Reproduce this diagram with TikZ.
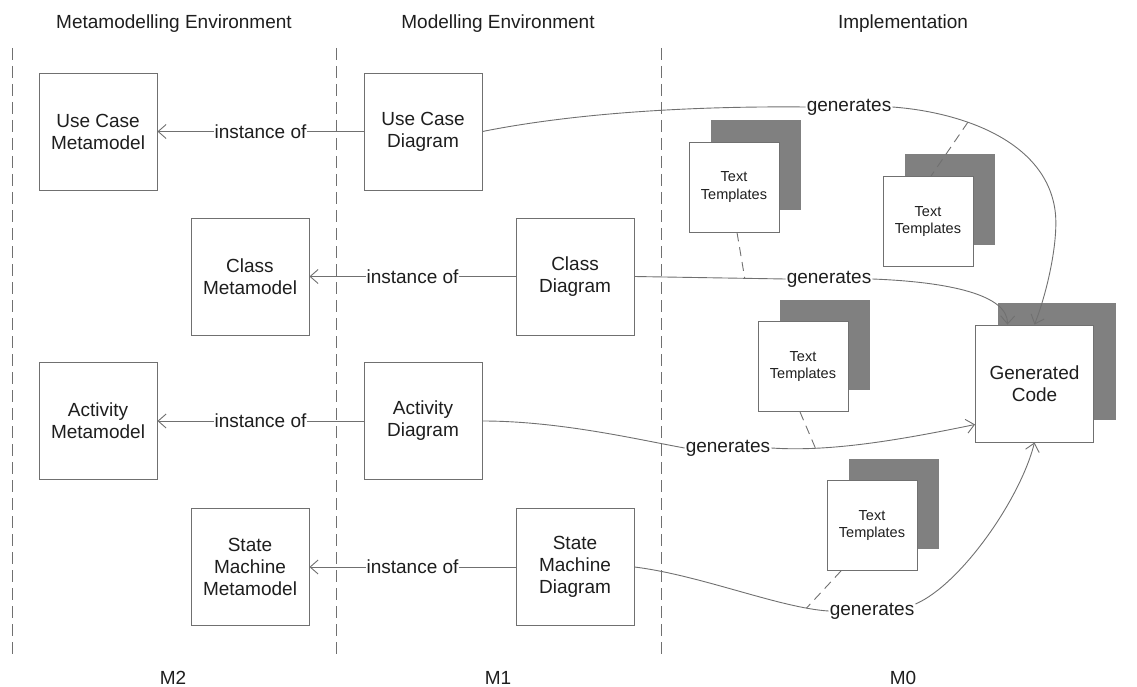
\documentclass[tikz,border=0pt]{standalone}
\usepackage{fontspec}
\setmainfont{Liberation Sans}
\usetikzlibrary{arrows.meta}
\definecolor{ln}{HTML}{707070}
\definecolor{sh}{HTML}{808080}
\definecolor{tx}{HTML}{1E1E1E}
\begin{document}
\begin{tikzpicture}[x=1pt,y=-1pt,
  every node/.style={text=tx},
  box/.style={draw=ln, line width=0.9pt, fill=white, minimum width=118pt, minimum height=117pt, inner sep=0pt, align=center, font=\fontsize{19}{22}\selectfont},
  tt/.style={draw=ln, line width=0.9pt, fill=white, minimum width=90pt, minimum height=90pt, inner sep=0pt, align=center, font=\fontsize{14.5}{17.5}\selectfont},
  ttsh/.style={fill=sh, minimum width=90pt, minimum height=90pt, inner sep=0pt},
  gcsh/.style={fill=sh, minimum width=118pt, minimum height=117pt, inner sep=0pt},
  lbl/.style={fill=white, inner sep=1pt, font=\fontsize{19}{22}\selectfont},
  gen/.style={inner sep=1pt, font=\fontsize{19}{22}\selectfont},
  hdr/.style={anchor=base, font=\fontsize{19}{22}\selectfont},
  conn/.style={draw=ln, line width=0.9pt},
  arr/.style={conn, -{Straight Barb[length=8pt,width=14pt]}},
  divider/.style={draw=ln, line width=0.9pt, dash pattern=on 12pt off 6pt},
  tdash/.style={draw=ln, line width=0.9pt, dash pattern=on 9pt off 6pt},
]
\useasboundingbox (0,0) rectangle (1137,687);

% headers and level labels
\node[hdr] (h1) at (174,29) {Metamodelling Environment};
\node[hdr] (h2) at (498,29) {Modelling Environment};
\node[hdr] (h3) at (903,29) {Implementation};
\node[hdr] (m2) at (173,684) {M2};
\node[hdr] (m1) at (498,684) {M1};
\node[hdr] (m0) at (903,684) {M0};

% dividers
\coordinate (v1t) at (12,48);  \coordinate (v1b) at (12,654);
\coordinate (v2t) at (336,48); \coordinate (v2b) at (336,654);
\coordinate (v3t) at (661,48); \coordinate (v3b) at (661,654);
\draw[divider] (v1t) -- (v1b);
\draw[divider] (v2t) -- (v2b);
\draw[divider] (v3t) -- (v3b);

% metamodels and diagrams
\node[box] (ucm) at (98,131.5) {Use Case\\Metamodel};
\node[box] (ucd) at (423,131.5) {Use Case\\Diagram};
\node[box] (cm) at (250,276.5) {Class\\Metamodel};
\node[box] (cd) at (575,276.5) {Class\\Diagram};
\node[box] (am) at (98,421) {Activity\\Metamodel};
\node[box] (ad) at (423,421) {Activity\\Diagram};
\node[box] (smm) at (250,567) {State\\Machine\\Metamodel};
\node[box] (smd) at (575,567) {State\\Machine\\Diagram};

% text templates
\node[ttsh] (tt1s) at (756,165) {};
\node[tt] (tt1) at (734,187) {Text\\Templates};
\node[ttsh] (tt2s) at (950,199.5) {};
\node[tt] (tt2) at (928,221.5) {Text\\Templates};
\node[ttsh] (tt3s) at (825,344.5) {};
\node[tt] (tt3) at (803,366.5) {Text\\Templates};
\node[ttsh] (tt4s) at (894,503.5) {};
\node[tt] (tt4) at (872,525.5) {Text\\Templates};

% generated code
\node[gcsh] (gcs) at (1056.5,361.5) {};
\node[box] (gc) at (1034.5,383.5) {Generated\\Code};

% instance of
\draw[arr] (ucd) -- node[lbl] {instance of} (ucm);
\draw[arr] (cd) -- node[lbl] {instance of} (cm);
\draw[arr] (ad) -- node[lbl] {instance of} (am);
\draw[arr] (smd) -- node[lbl] {instance of} (smm);

% generates labels
\node[gen] (g1) at (849,107) {generates};
\node[gen] (g2) at (829,279) {generates};
\node[gen] (g3) at (728,448) {generates};
\node[gen] (g4) at (872,611) {generates};

% generates curves
\draw[conn] (ucd.east) .. controls (580,112) and (700,106) .. (g1.west);
\draw[arr] (g1.east) .. controls (960,112) and (1045,140) .. coordinate[pos=0.36] (c1) (1055,210)
  .. controls (1059,238) and (1048,290) .. (gc.north);

\draw[conn] (cd.east) -- coordinate[pos=0.73] (c2) (g2.west);
\draw[arr] (g2.east) .. controls (950,282) and (1008,295) .. ([xshift=-27pt]gc.north);

\draw[conn] (ad.east) .. controls (560,421) and (640,440) .. (g3.west);
\draw[arr] (g3.east) .. controls (830,452) and (900,440) .. coordinate[pos=0.24] (c3) ([yshift=-41pt]gc.west);

\draw[conn] (smd.east) .. controls (700,575) and (780,608) .. coordinate[pos=0.86] (c4) (g4.west);
\draw[arr] ([yshift=7pt]g4.east) .. controls (960,585) and (1020,500) .. (gc.south);

% dashed template links
\draw[tdash] ([xshift=3pt]tt1.south) -- (c2);
\draw[tdash] (c1) -- ([xshift=3pt]tt2.north);
\draw[tdash] ([xshift=-3pt]tt3.south) -- (c3);
\draw[tdash] ([xshift=-31pt]tt4.south) -- (c4);
\end{tikzpicture}
\end{document}
